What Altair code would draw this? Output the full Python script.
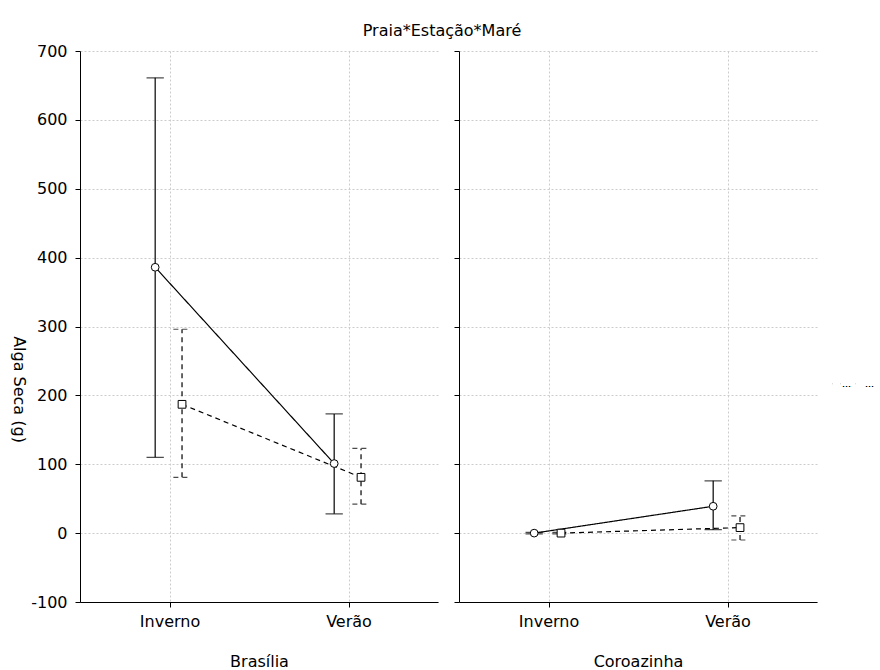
import altair as alt
import pandas as pd

praia = ["Brasília"] * 4 + ["Coroazinha"] * 4
estacao = ["Inverno", "Inverno", "Verão", "Verão"] * 2
mare = ["Maré 1", "Maré 2"] * 4
xpos = [0.42, 0.57, 1.42, 1.57] * 2
mean = [386, 187, 101, 81, 0, 0, 39, 8]
lo = [110, 81, 28, 42, -1, -1, 5, -10]
hi = [661, 296, 173, 123, 1, 1, 76, 25]

df = pd.DataFrame({"Praia": praia, "Estacao": estacao, "Mare": mare,
                   "x": xpos, "mean": mean, "lo": lo, "hi": hi})

FONT = "DejaVu Sans"
FS = 16
dash_scale = alt.Scale(range=[[1, 0], [5, 4]])
shape_scale = alt.Scale(range=["circle", "square"])


def make_legend():
    return alt.Legend(title=None, orient="none", legendX=752, legendY=328,
                      direction="horizontal", padding=0, labelFontSize=9,
                      labelFont=FONT, labelColor="black", labelLimit=14,
                      symbolFillColor="white", symbolStrokeColor="black",
                      symbolStrokeWidth=1, symbolSize=60,
                      columnPadding=2, labelOffset=1)


def panel(name, first):
    d = df[df["Praia"] == name]
    base = alt.Chart(d)
    xenc = alt.X("x:Q", scale=alt.Scale(domain=[0, 2]),
                 axis=alt.Axis(values=[0.5, 1.5],
                               labelExpr="datum.value < 1 ? 'Inverno' : 'Verão'",
                               title=name, grid=True, gridDash=[2, 2],
                               gridColor="#cccccc", domainColor="black",
                               tickColor="black", tickSize=5, labelPadding=6,
                               titlePadding=24, labelFontSize=FS, titleFontSize=FS,
                               labelFont=FONT, titleFont=FONT, titleFontWeight="normal",
                               labelColor="black", titleColor="black"))
    yaxis = alt.Axis(values=list(range(-100, 701, 100)), grid=True, gridDash=[2, 2],
                     gridColor="#cccccc", domainColor="black", tickColor="black",
                     tickSize=5, labelFontSize=FS, labelFont=FONT, labelColor="black",
                     labelPadding=8, labelExpr="replace(datum.label, '\u2212', '-')",
                     titleFont=FONT, titleFontSize=FS, titleFontWeight="normal",
                     titleColor="black", titleAngle=90, titleX=-70, titleY=338,
                     labels=first, title="Alga Seca (g)" if first else None)
    yscale = alt.Scale(domain=[-100, 700], nice=False)
    dash = alt.StrokeDash("Mare:N", scale=dash_scale, legend=make_legend())
    rules = base.mark_rule(color="black", strokeWidth=1.2).encode(
        x=xenc, y=alt.Y("lo:Q", scale=yscale, axis=yaxis), y2="hi:Q", strokeDash=dash)
    caps_hi = base.mark_point(shape="M-1,0L1,0", size=300, color="black",
                              strokeWidth=1.2, filled=False).encode(
        x="x:Q", y="hi:Q", strokeDash=dash)
    caps_lo = base.mark_point(shape="M-1,0L1,0", size=300, color="black",
                              strokeWidth=1.2, filled=False).encode(
        x="x:Q", y="lo:Q", strokeDash=dash)
    lines = base.mark_line(color="black", strokeWidth=1.2).encode(
        x="x:Q", y="mean:Q", detail="Mare:N", strokeDash=dash)
    pts = base.mark_point(filled=False, fill="white", fillOpacity=1, color="black",
                          stroke="black", strokeWidth=1, size=60, opacity=1).encode(
        x="x:Q", y="mean:Q",
        shape=alt.Shape("Mare:N", scale=shape_scale, legend=make_legend()))
    return alt.layer(rules, caps_hi, caps_lo, lines, pts).properties(width=358, height=551)


chart = alt.hconcat(panel("Brasília", True), panel("Coroazinha", False), spacing=15).properties(
    title=alt.TitleParams("Praia*Estação*Maré", font=FONT, fontSize=16,
                          fontWeight="normal", color="black", anchor="middle", offset=4),
    padding={"left": 10, "top": 23, "right": 0, "bottom": 5},
    background="white",
).configure_view(stroke=None)

chart.save("out.html", embed_options={"renderer": "svg", "actions": False})
